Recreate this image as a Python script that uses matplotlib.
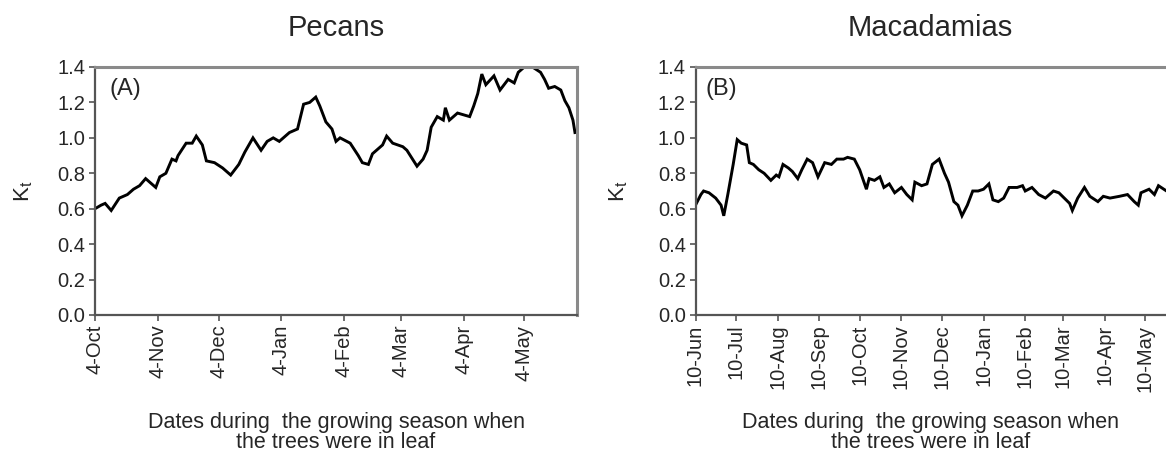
import matplotlib
matplotlib.use("Agg")
import matplotlib.pyplot as plt
import pandas as pd

plt.rcParams["font.family"] = ["Liberation Sans", "DejaVu Sans"]

# ---- Pecans: crop coefficient (Kt) through the in-leaf season ----
pecan_start = "2013-10-04"
pecan_day = [0, 3, 5, 8, 12, 16, 19, 22, 25, 28, 30, 32, 35, 38, 40, 41, 45, 48,
             50, 53, 55, 59, 63, 67, 71, 74, 76, 78, 82, 85, 88, 91, 93, 96, 100,
             103, 106, 109, 111, 114, 117, 119, 121, 126, 130, 132, 135, 137, 142,
             144, 147, 152, 154, 159, 162, 164, 166, 169, 172, 173, 175, 179, 185,
             187, 189, 191, 193, 197, 200, 204, 207, 209, 212, 216, 220, 222, 224,
             227, 230, 232, 234, 236, 237]
pecan_kt = [0.60, 0.62, 0.63, 0.59, 0.66, 0.68, 0.71, 0.73, 0.77, 0.74, 0.72,
            0.78, 0.80, 0.88, 0.87, 0.90, 0.97, 0.97, 1.01, 0.96, 0.87, 0.86,
            0.83, 0.79, 0.85, 0.92, 0.96, 1.00, 0.93, 0.98, 1.00, 0.98, 1.00,
            1.03, 1.05, 1.19, 1.20, 1.23, 1.18, 1.09, 1.05, 0.98, 1.00, 0.97,
            0.90, 0.86, 0.85, 0.91, 0.96, 1.01, 0.97, 0.95, 0.93, 0.84, 0.88,
            0.93, 1.06, 1.12, 1.10, 1.17, 1.10, 1.14, 1.12, 1.18, 1.25, 1.36,
            1.30, 1.35, 1.27, 1.33, 1.31, 1.37, 1.40, 1.40, 1.37, 1.33, 1.28,
            1.29, 1.27, 1.21, 1.17, 1.10, 1.03]
pecan_tick_dates = ["2013-10-04", "2013-11-04", "2013-12-04", "2014-01-04",
                    "2014-02-04", "2014-03-04", "2014-04-04", "2014-05-04"]
pecan_tick_labels = ["4-Oct", "4-Nov", "4-Dec", "4-Jan",
                     "4-Feb", "4-Mar", "4-Apr", "4-May"]
pecan_span_days = 238

# ---- Macadamias: crop coefficient (Kt) through the in-leaf season ----
mac_start = "2013-06-10"
mac_day = [0, 4, 6, 10, 15, 19, 21, 24, 28, 31, 34, 38, 40, 43, 47, 51, 56, 60,
           62, 65, 69, 72, 76, 79, 83, 87, 91, 96, 101, 105, 110, 113, 118, 122,
           127, 129, 133, 137, 140, 144, 148, 153, 157, 161, 163, 168, 172, 176,
           181, 185, 188, 192, 195, 198, 202, 206, 210, 214, 218, 221, 225, 229,
           233, 239, 243, 245, 250, 255, 260, 266, 270, 274, 278, 280, 284, 289,
           293, 299, 303, 308, 315, 321, 326, 329, 331, 337, 341, 344, 346, 350]
mac_kt = [0.62, 0.68, 0.70, 0.69, 0.66, 0.62, 0.56, 0.68, 0.85, 0.99, 0.97,
          0.96, 0.86, 0.85, 0.82, 0.80, 0.76, 0.79, 0.78, 0.85, 0.83, 0.81,
          0.77, 0.82, 0.88, 0.86, 0.78, 0.86, 0.85, 0.88, 0.88, 0.89, 0.88,
          0.82, 0.71, 0.77, 0.76, 0.78, 0.72, 0.74, 0.69, 0.72, 0.68, 0.65,
          0.75, 0.73, 0.74, 0.85, 0.88, 0.80, 0.75, 0.64, 0.62, 0.56, 0.62,
          0.70, 0.70, 0.71, 0.74, 0.65, 0.64, 0.66, 0.72, 0.72, 0.73, 0.70,
          0.72, 0.68, 0.66, 0.70, 0.69, 0.66, 0.63, 0.59, 0.66, 0.72, 0.67,
          0.64, 0.67, 0.66, 0.67, 0.68, 0.64, 0.62, 0.69, 0.71, 0.68, 0.73,
          0.72, 0.70]
mac_tick_dates = ["2013-06-10", "2013-07-10", "2013-08-10", "2013-09-10",
                  "2013-10-10", "2013-11-10", "2013-12-10", "2014-01-10",
                  "2014-02-10", "2014-03-10", "2014-04-10", "2014-05-10"]
mac_tick_labels = ["10-Jun", "10-Jul", "10-Aug", "10-Sep", "10-Oct", "10-Nov",
                   "10-Dec", "10-Jan", "10-Feb", "10-Mar", "10-Apr", "10-May"]
mac_span_days = 349.6

y_ticks = [0.0, 0.2, 0.4, 0.6, 0.8, 1.0, 1.2, 1.4]
xlabel_text = "Dates during  the growing season when\nthe trees were in leaf"

TEXT = "#262626"
AXIS_DARK = "#555555"
AXIS_LIGHT = "#8a8a8a"

fig = plt.figure(figsize=(11.66, 4.68), dpi=100)
ax_a = fig.add_axes([95 / 1166, 1 - 315 / 468, (577 - 95) / 1166, (315 - 67) / 468])
ax_b = fig.add_axes([695.5 / 1166, 1 - 315 / 468, (1166 - 695.5) / 1166, (315 - 67) / 468])


def draw_panel(ax, start, days, values, tick_dates, tick_labels, span,
               title, tag, tag_x, ylab_x, right_spine=True):
    t0 = pd.Timestamp(start)
    dates = t0 + pd.to_timedelta(days, unit="D")
    ax.plot(dates, values, color="black", lw=2.1, solid_joinstyle="miter")
    ax.set_xlim(t0, t0 + pd.Timedelta(days=span))
    ax.set_ylim(0, 1.4)
    ax.set_yticks(y_ticks)
    ax.set_yticklabels([f"{v:.1f}" for v in y_ticks])
    ax.set_xticks(pd.to_datetime(tick_dates))
    ax.set_xticklabels(tick_labels, rotation=90)
    ax.tick_params(axis="both", direction="out", length=4, width=1.2,
                   color=AXIS_DARK, labelsize=14.5, labelcolor=TEXT, pad=3)
    for side in ("left", "bottom"):
        ax.spines[side].set_color(AXIS_DARK)
        ax.spines[side].set_linewidth(1.6)
    ax.spines["top"].set_color(AXIS_LIGHT)
    ax.spines["top"].set_linewidth(2.2)
    ax.spines["right"].set_color(AXIS_LIGHT)
    ax.spines["right"].set_linewidth(2.2)
    ax.spines["right"].set_visible(right_spine)
    ax.set_title(title, fontsize=21, color=TEXT, pad=22)
    ax.text(tag_x, 0.91, tag, transform=ax.transAxes, fontsize=17,
            color=TEXT, ha="left", va="center")
    ax.set_ylabel(r"$\mathregular{K_t}$", fontsize=16, color=TEXT)
    ax.yaxis.set_label_coords(ylab_x, 0.5)
    ax.set_xlabel(xlabel_text, fontsize=15.5, color=TEXT, linespacing=0.95,
                  va="top")
    ax.xaxis.set_label_coords(0.5, -0.39)


draw_panel(ax_a, pecan_start, pecan_day, pecan_kt, pecan_tick_dates,
           pecan_tick_labels, pecan_span_days, "Pecans", "(A)", 0.03, -0.125)
draw_panel(ax_b, mac_start, mac_day, mac_kt, mac_tick_dates,
           mac_tick_labels, mac_span_days, "Macadamias", "(B)", 0.022, -0.14,
           right_spine=False)

fig.savefig("out.png", dpi=100, facecolor="white")
